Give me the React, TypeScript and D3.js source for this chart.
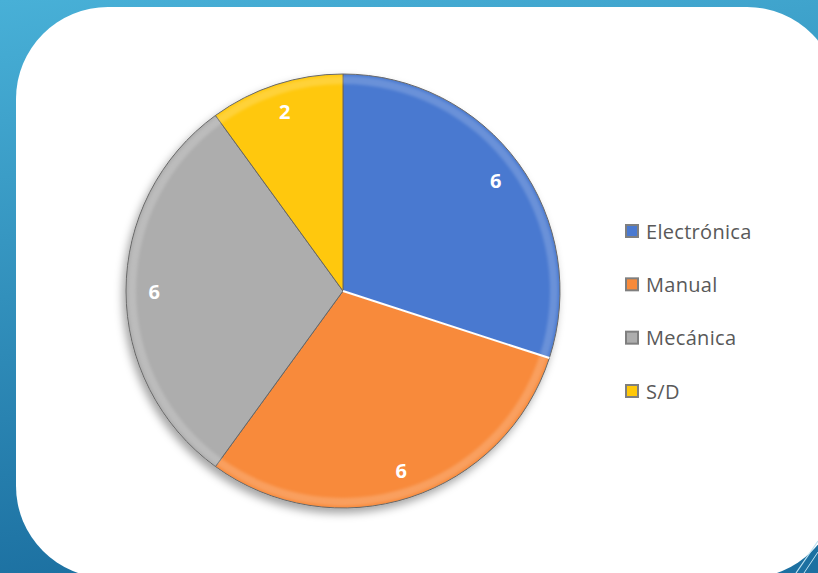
import React from 'react';
import * as d3 from 'd3';

const categories = ['Electrónica', 'Manual', 'Mecánica', 'S/D'];
const values = [6, 6, 6, 2];
const colors = ['#4a79d0', '#f88a3a', '#adadad', '#ffc808'];

const W = 818;
const H = 573;
const cx = 343;
const cy = 291;
const radius = 217;

type Slice = { name: string; value: number; color: string };

const App: React.FC = () => {
  const data: Slice[] = categories.map((name, i) => ({
    name,
    value: values[i],
    color: colors[i],
  }));

  const pie = d3
    .pie<Slice>()
    .sort(null)
    .value((d) => d.value);
  const arcs = pie(data);

  const arc = d3.arc<d3.PieArcDatum<Slice>>().innerRadius(0).outerRadius(radius);
  const rim = d3
    .arc<d3.PieArcDatum<Slice>>()
    .innerRadius(radius - 10)
    .outerRadius(radius - 2);
  const labelArc = d3
    .arc<d3.PieArcDatum<Slice>>()
    .innerRadius(radius * 0.87)
    .outerRadius(radius * 0.87);

  const legendY = d3
    .scalePoint<string>()
    .domain(categories)
    .range([231, 391]);

  // white seam between the first two slices
  const [sx, sy] = d3.pointRadial(arcs[0].endAngle, radius);

  return (
    <svg
      width={W}
      height={H}
      style={{ position: 'absolute', left: 0, top: 0 }}
    >
      <defs>
        <linearGradient id="bg" x1="0" y1="0" x2="0.2" y2="1">
          <stop offset="0" stopColor="#48b0d7" />
          <stop offset="1" stopColor="#1c70a1" />
        </linearGradient>
        <filter id="shadow" x="-20%" y="-20%" width="140%" height="140%">
          <feDropShadow dx="-3" dy="5" stdDeviation="4" floodColor="#000" floodOpacity="0.35" />
        </filter>
        <filter id="soft">
          <feGaussianBlur stdDeviation="1.5" />
        </filter>
      </defs>
      <rect x={0} y={0} width={W} height={H} fill="url(#bg)" />
      <rect x={16} y={7} width={823} height={571} rx={92} ry={92} fill="#ffffff" />
      <line x1={796} y1={573} x2={818} y2={541} stroke="#bfe3f2" strokeWidth={1.2} />
      <line x1={804} y1={573} x2={818} y2={552} stroke="#bfe3f2" strokeWidth={1} />

      <g transform={`translate(${cx},${cy})`}>
        <g filter="url(#shadow)">
          {arcs.map((a, i) => (
            <path key={`s${i}`} d={arc(a) || ''} fill={a.data.color} stroke="#666666" strokeWidth={1} />
          ))}
        </g>
        {arcs.map((a, i) => (
          <path
            key={`r${i}`}
            d={rim(a) || ''}
            fill="#ffffff"
            opacity={0.18}
            filter="url(#soft)"
          />
        ))}
        <line x1={0} y1={0} x2={sx} y2={sy} stroke="#ffffff" strokeWidth={2} />
        {arcs.map((a, i) => {
          const [x, y] = labelArc.centroid(a);
          return (
            <text
              key={`l${i}`}
              x={x}
              y={y}
              textAnchor="middle"
              dominantBaseline="central"
              fill="#ffffff"
              fontFamily="'Open Sans', sans-serif"
              fontWeight={700}
              fontSize={20}
            >
              {a.data.value}
            </text>
          );
        })}
      </g>

      {data.map((d) => {
        const y = legendY(d.name) || 0;
        return (
          <g key={d.name}>
            <rect x={625} y={y - 7} width={14} height={14} fill="#7f7f7f" />
            <rect x={627} y={y - 5} width={10} height={10} fill={d.color} />
            <text
              x={646}
              y={y}
              dominantBaseline="central"
              fill="#595959"
              fontFamily="'Open Sans', sans-serif"
              fontSize={20}
              letterSpacing={0.3}
            >
              {d.name}
            </text>
          </g>
        );
      })}
    </svg>
  );
};

export default App;
